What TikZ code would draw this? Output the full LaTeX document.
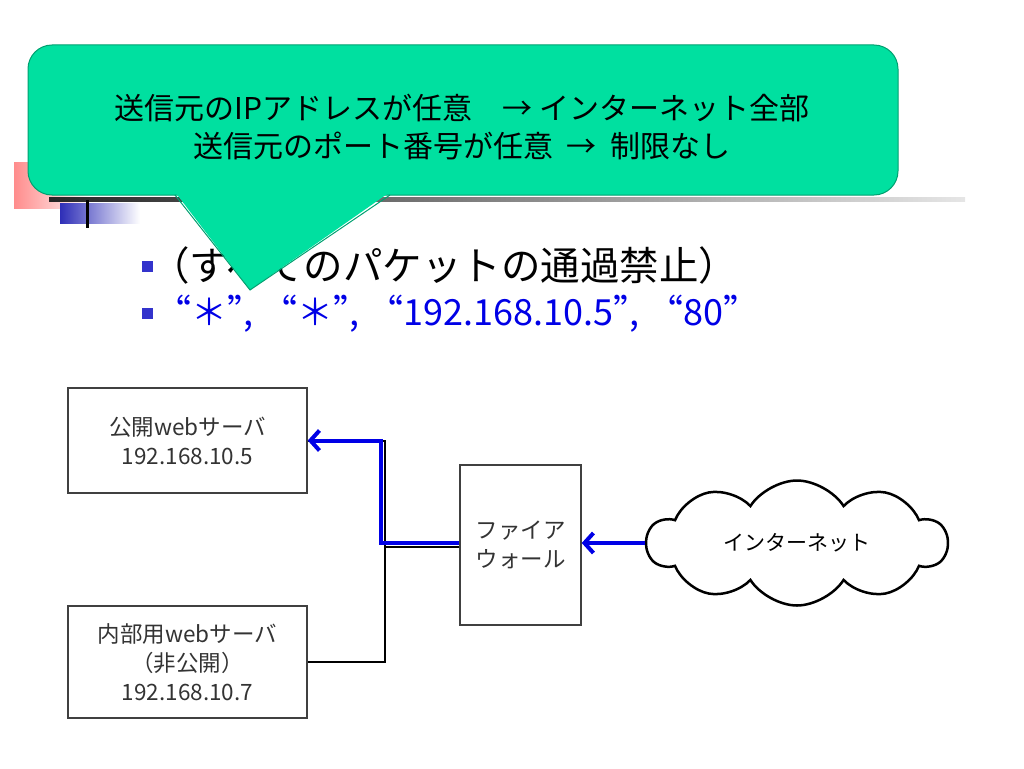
\documentclass[tikz,border=0pt]{standalone}
\usepackage{fontspec}
\setmainfont{Liberation Sans}
\newfontfamily\jp{Noto Sans CJK JP}
\newfontfamily\jpfw[RawFeature=+fwid]{Noto Sans CJK JP}
\newcommand{\fwq}[1]{{\jpfw“}#1{\jpfw”}\hspace{-0.55em}}
\usetikzlibrary{shapes.symbols,arrows.meta,positioning}

\definecolor{calloutgreen}{RGB}{0,224,160}
\definecolor{calloutedge}{RGB}{0,160,112}
\definecolor{bulletblue}{RGB}{51,51,204}
\definecolor{linkblue}{RGB}{0,0,230}
\definecolor{boxgray}{RGB}{64,64,64}

\begin{document}
\begin{tikzpicture}[x=1pt, y=-1pt,
    box/.style = {draw=boxgray, line width=1.5pt, align=center, text=black!80,
                  font=\jp\fontsize{22.5}{29}\selectfont},
    wire/.style = {line width=2pt},
    flow/.style = {line width=4pt, draw=linkblue, -{Straight Barb[length=9pt, width=20pt]}},
    bulletsq/.style = {fill=bulletblue, inner sep=0pt, minimum size=11pt}
  ]
    \useasboundingbox (0,0) rectangle (1024,768);

    % title decoration
    \shade[left color=red!45, right color=white] (14,162) rectangle (90,208);
    \shade[left color=black!85, right color=black!10] (49,197) rectangle (965,201);
    \shade[left color=bulletblue!90!black, right color=white] (60,203) rectangle (140,223);
    \fill[black] (86,200) rectangle (89,228);

    % bullets
    \node[bulletsq] (b1) at (147.5,266.5) {};
    \node[anchor=west, inner sep=0pt, font=\jp\fontsize{39.5}{40}\selectfont] (t1) at (150,265) {（すべてのパケットの通過禁止）};
    \node[bulletsq] (b2) at (147.5,313.5) {};
    \node[anchor=west, inner sep=0pt, text=linkblue, font=\jp\fontsize{36}{38}\selectfont] (t2) at (155,314)
        {\fwq{＊}, \fwq{＊}, \fwq{192.168.10.5}, \fwq{80}};

    % callout
    \filldraw[fill=calloutgreen, draw=calloutedge, line width=1pt, rounded corners=24] (28,45) rectangle (898,195);
    \fill[calloutgreen] (175,192) -- (390,192) -- (250,290) -- cycle;
    \draw[calloutedge, line width=1pt] (175,195) -- (250,290) -- (390,195);
    \node[align=center, font=\jp\fontsize{30}{38}\selectfont] (tip) at (462,127)
        {送信元のIPアドレスが任意　→ インターネット全部\\送信元のポート番号が任意\ \ → \ 制限なし};

    % network
    \node[box, minimum width=239pt, minimum height=105pt] (pub) at (187.5,440.5) {公開webサーバ\\192.168.10.5};
    \node[box, minimum width=239pt, minimum height=112pt] (int) at (187.5,662) {内部用webサーバ\\（非公開）\\192.168.10.7};
    \node[box, minimum width=121pt, minimum height=160pt] (fw) at (520.5,545) {ファイア\\ウォール};
    \node[cloud, draw, line width=2.5pt, cloud puffs=10, cloud puff arc=115, aspect=2.4,
          minimum width=300pt, minimum height=125pt, font=\jp\fontsize{21}{24}\selectfont] (net) at (797,543) {インターネット};

    \coordinate (hub) at (385,547);
    \draw[wire] (pub.east) -| (hub) |- (int.east);
    \draw[wire] (hub) -- (hub -| fw.west);

    \coordinate (bhub) at (381,543);
    \draw[flow] (bhub -| fw.west) -- (bhub) |- (pub.east);
    \draw[flow] (net.west) -- (net.west -| fw.east);
\end{tikzpicture}
\end{document}
